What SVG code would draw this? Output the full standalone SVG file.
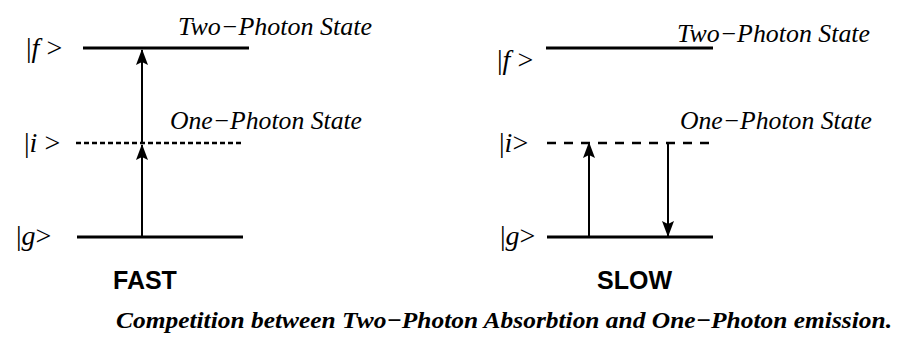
<svg xmlns="http://www.w3.org/2000/svg" width="905" height="355" viewBox="0 0 905 355">
<style>
.lvl{stroke:#000;stroke-width:3;fill:none}
.dashA{stroke:#000;stroke-width:2.5;stroke-dasharray:5 3;fill:none}
.dashB{stroke:#000;stroke-width:2.5;stroke-dasharray:9 8;fill:none}
.arr{stroke:#000;stroke-width:2;fill:none;marker-end:url(#ah)}
.st{font-family:"Liberation Serif","Times New Roman",serif;font-style:italic;font-size:25px;fill:#000}
.ket{font-family:"Liberation Serif","Times New Roman",serif;font-size:28px;fill:#000}
.ket tspan.v{font-style:italic}
.tag{font-family:"Liberation Sans",Arial,sans-serif;font-weight:bold;font-size:25px;fill:#000}
.cap{font-family:"Liberation Serif","Times New Roman",serif;font-style:italic;font-weight:bold;font-size:24px;fill:#000}
</style>
<defs>
<marker id="ah" viewBox="0 0 16 12" refX="15" refY="6" markerWidth="16" markerHeight="12" markerUnits="userSpaceOnUse" orient="auto">
<path d="M0,0 L16,6 L0,12 L3,6 Z" fill="#000"/>
</marker>
</defs>
<rect width="905" height="355" fill="#fff"/>
<g id="fast">
<g id="fast-f"><line class="lvl" x1="83" y1="48" x2="249" y2="48"/><text class="ket" x="26" y="57">|<tspan class="v">f</tspan> &gt;</text><text class="st" x="178" y="35" textLength="194" lengthAdjust="spacingAndGlyphs">Two−Photon State</text></g>
<g id="fast-i"><line class="dashA" x1="76" y1="143" x2="244" y2="143"/><text class="ket" x="24" y="152">|<tspan class="v">i</tspan> &gt;</text><text class="st" x="170" y="129" textLength="192" lengthAdjust="spacingAndGlyphs">One−Photon State</text></g>
<g id="fast-g"><line class="lvl" x1="77" y1="237" x2="243" y2="237"/><text class="ket" x="16" y="245">|<tspan class="v">g</tspan>&gt;</text></g>
<text id="fast-label" class="tag" x="113" y="289">FAST</text>
</g>
<g id="slow">
<g id="slow-f"><line class="lvl" x1="546" y1="48" x2="713" y2="48"/><text class="ket" x="497" y="69">|<tspan class="v">f</tspan> &gt;</text><text class="st" x="677" y="42" textLength="193" lengthAdjust="spacingAndGlyphs">Two−Photon State</text></g>
<g id="slow-i"><line class="dashB" x1="547" y1="143" x2="713" y2="143"/><text class="ket" x="499" y="152">|<tspan class="v">i</tspan>&gt;</text><text class="st" x="680" y="129" textLength="192" lengthAdjust="spacingAndGlyphs">One−Photon State</text></g>
<g id="slow-g"><line class="lvl" x1="547" y1="237" x2="713" y2="237"/><text class="ket" x="500" y="245">|<tspan class="v">g</tspan>&gt;</text></g>
<text id="slow-label" class="tag" x="597" y="289">SLOW</text>
</g>
<g id="connectors">
<line class="arr" x1="142" y1="236" x2="142" y2="145"/>
<line class="arr" x1="142" y1="143" x2="142" y2="50"/>
<line class="arr" x1="589" y1="236" x2="589" y2="143"/>
<line class="arr" x1="668" y1="143" x2="668" y2="236"/>
</g>
<text id="caption" class="cap" x="116" y="328" textLength="776" lengthAdjust="spacingAndGlyphs">Competition between Two−Photon Absorbtion and One−Photon emission.</text>
</svg>
